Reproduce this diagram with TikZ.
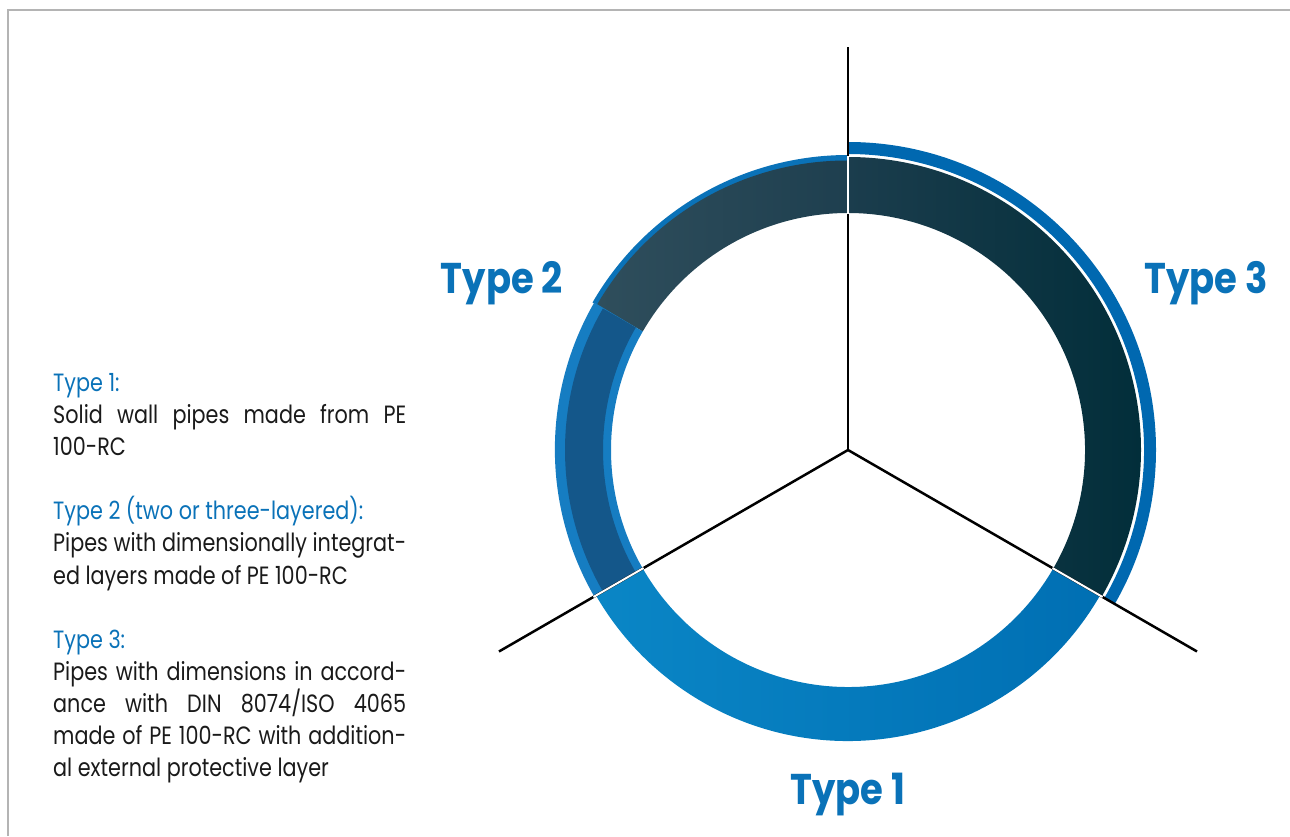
\documentclass[tikz,border=0pt]{standalone}
\usepackage{fontspec}
\setmainfont{Poppins}[FakeStretch=0.86]
\newfontfamily\bodyfont{Poppins}[FakeStretch=0.83]
\usetikzlibrary{positioning}
\definecolor{tblue}{HTML}{0A72B8}
\definecolor{bandblue}{HTML}{0068B0}
\definecolor{oneleft}{HTML}{0A86C6}
\definecolor{oneright}{HTML}{006FB3}
\definecolor{threeleft}{HTML}{1B3D4D}
\definecolor{threeright}{HTML}{022E3A}
\definecolor{twoleft}{HTML}{2F4E5C}
\definecolor{tworight}{HTML}{1E3F4F}
\definecolor{twolight}{HTML}{167DC2}
\definecolor{twodark}{HTML}{14578A}
\definecolor{txtgray}{HTML}{1A1A1A}
\definecolor{framegray}{HTML}{B4B4B4}
\tikzset{spoke/.style = {black, line width = 2.5pt},
  sep/.style = {white, line width = 2pt},
  frame/.style = {framegray, line width = 2.5pt},
  body/.style = {anchor = base west, inner sep = 0, text = txtgray,
    font = \bodyfont\fontsize{25}{32}\selectfont},
  head/.style = {body, text = tblue},
  lbl/.style = {inner sep = 0, text = tblue,
    font = \fontsize{43}{50}\selectfont\bfseries}}

\begin{document}
\begin{tikzpicture}[x=1pt, y=1pt]
    \useasboundingbox (0, 0) rectangle (1290, 836);
    \draw [frame] (8, 0) -- (8, 826) -- (1290, 826);

    \begin{scope}[shift={(848, 386)}]
      % type 1
      \shade [left color=oneleft, right color=oneright]
        (210:237) arc (210:330:237) -- (330:291) arc (330:210:291) -- cycle;

      % type 3
      \shade [left color=threeleft, right color=threeright]
        (-30:237) arc (-30:90:237) -- (90:293) arc (90:-30:293) -- cycle;
      \fill [bandblue]
        (-30:296) arc (-30:90:296) -- (90:308) arc (90:-30:308) -- cycle;

      % type 2
      \fill [tblue]
        (90:287) arc (90:150:287) -- (150:295) arc (150:90:295) -- cycle;
      \shade [left color=twoleft, right color=tworight]
        (90:237) arc (90:150:237) -- (150:290) arc (150:90:289) -- cycle;
      \fill [twolight]
        (150:237) arc (150:210:237) -- (210:293) arc (210:150:294) -- cycle;
      \fill [twodark]
        (150:245) arc (150:210:245) -- (210:283) arc (210:150:283) -- cycle;

      \coordinate (c) at (0, 0);
      \coordinate (top) at (90:403);
      \coordinate (left) at (210:403);
      \coordinate (right) at (330:403);
      \draw [spoke] (c) -- (top);
      \draw [spoke] (c) -- (left);
      \draw [spoke] (c) -- (right);

      \draw [sep] (90:236) -- (90:294);
      \draw [sep] (210:236) -- (210:294);
      \draw [sep] (330:236) -- (330:294);
    \end{scope}

    \node [lbl] (type2) at (502, 553) {Type 2};
    \node [lbl] (type3) at (1206, 553) {Type 3};
    \node [lbl] (type1) at (848, 41) {Type 1};

    \node [head] (h1) at (53, 444) {Type 1:};
    \node [body] (a1) at (53, 412) {\makebox[353pt][s]{Solid wall pipes made from PE}};
    \node [body] (b1) at (53, 380) {100-RC};

    \node [head] (h2) at (53, 316) {Type 2 (two or three-layered):};
    \node [body] (a2) at (53, 284) {\makebox[353pt][s]{Pipes with dimensionally integrat-}};
    \node [body] (b2) at (53, 252) {ed layers made of PE 100-RC};

    \node [head] (h3) at (53, 188) {Type 3:};
    \node [body] (a3) at (53, 156) {\makebox[353pt][s]{Pipes with dimensions in accord-}};
    \node [body] (b3) at (53, 124) {\makebox[353pt][s]{ance with DIN 8074/ISO 4065}};
    \node [body] (c3) at (53, 92) {\makebox[353pt][s]{made of PE 100-RC with addition-}};
    \node [body] (d3) at (53, 60) {al external protective layer};
\end{tikzpicture}
\end{document}
